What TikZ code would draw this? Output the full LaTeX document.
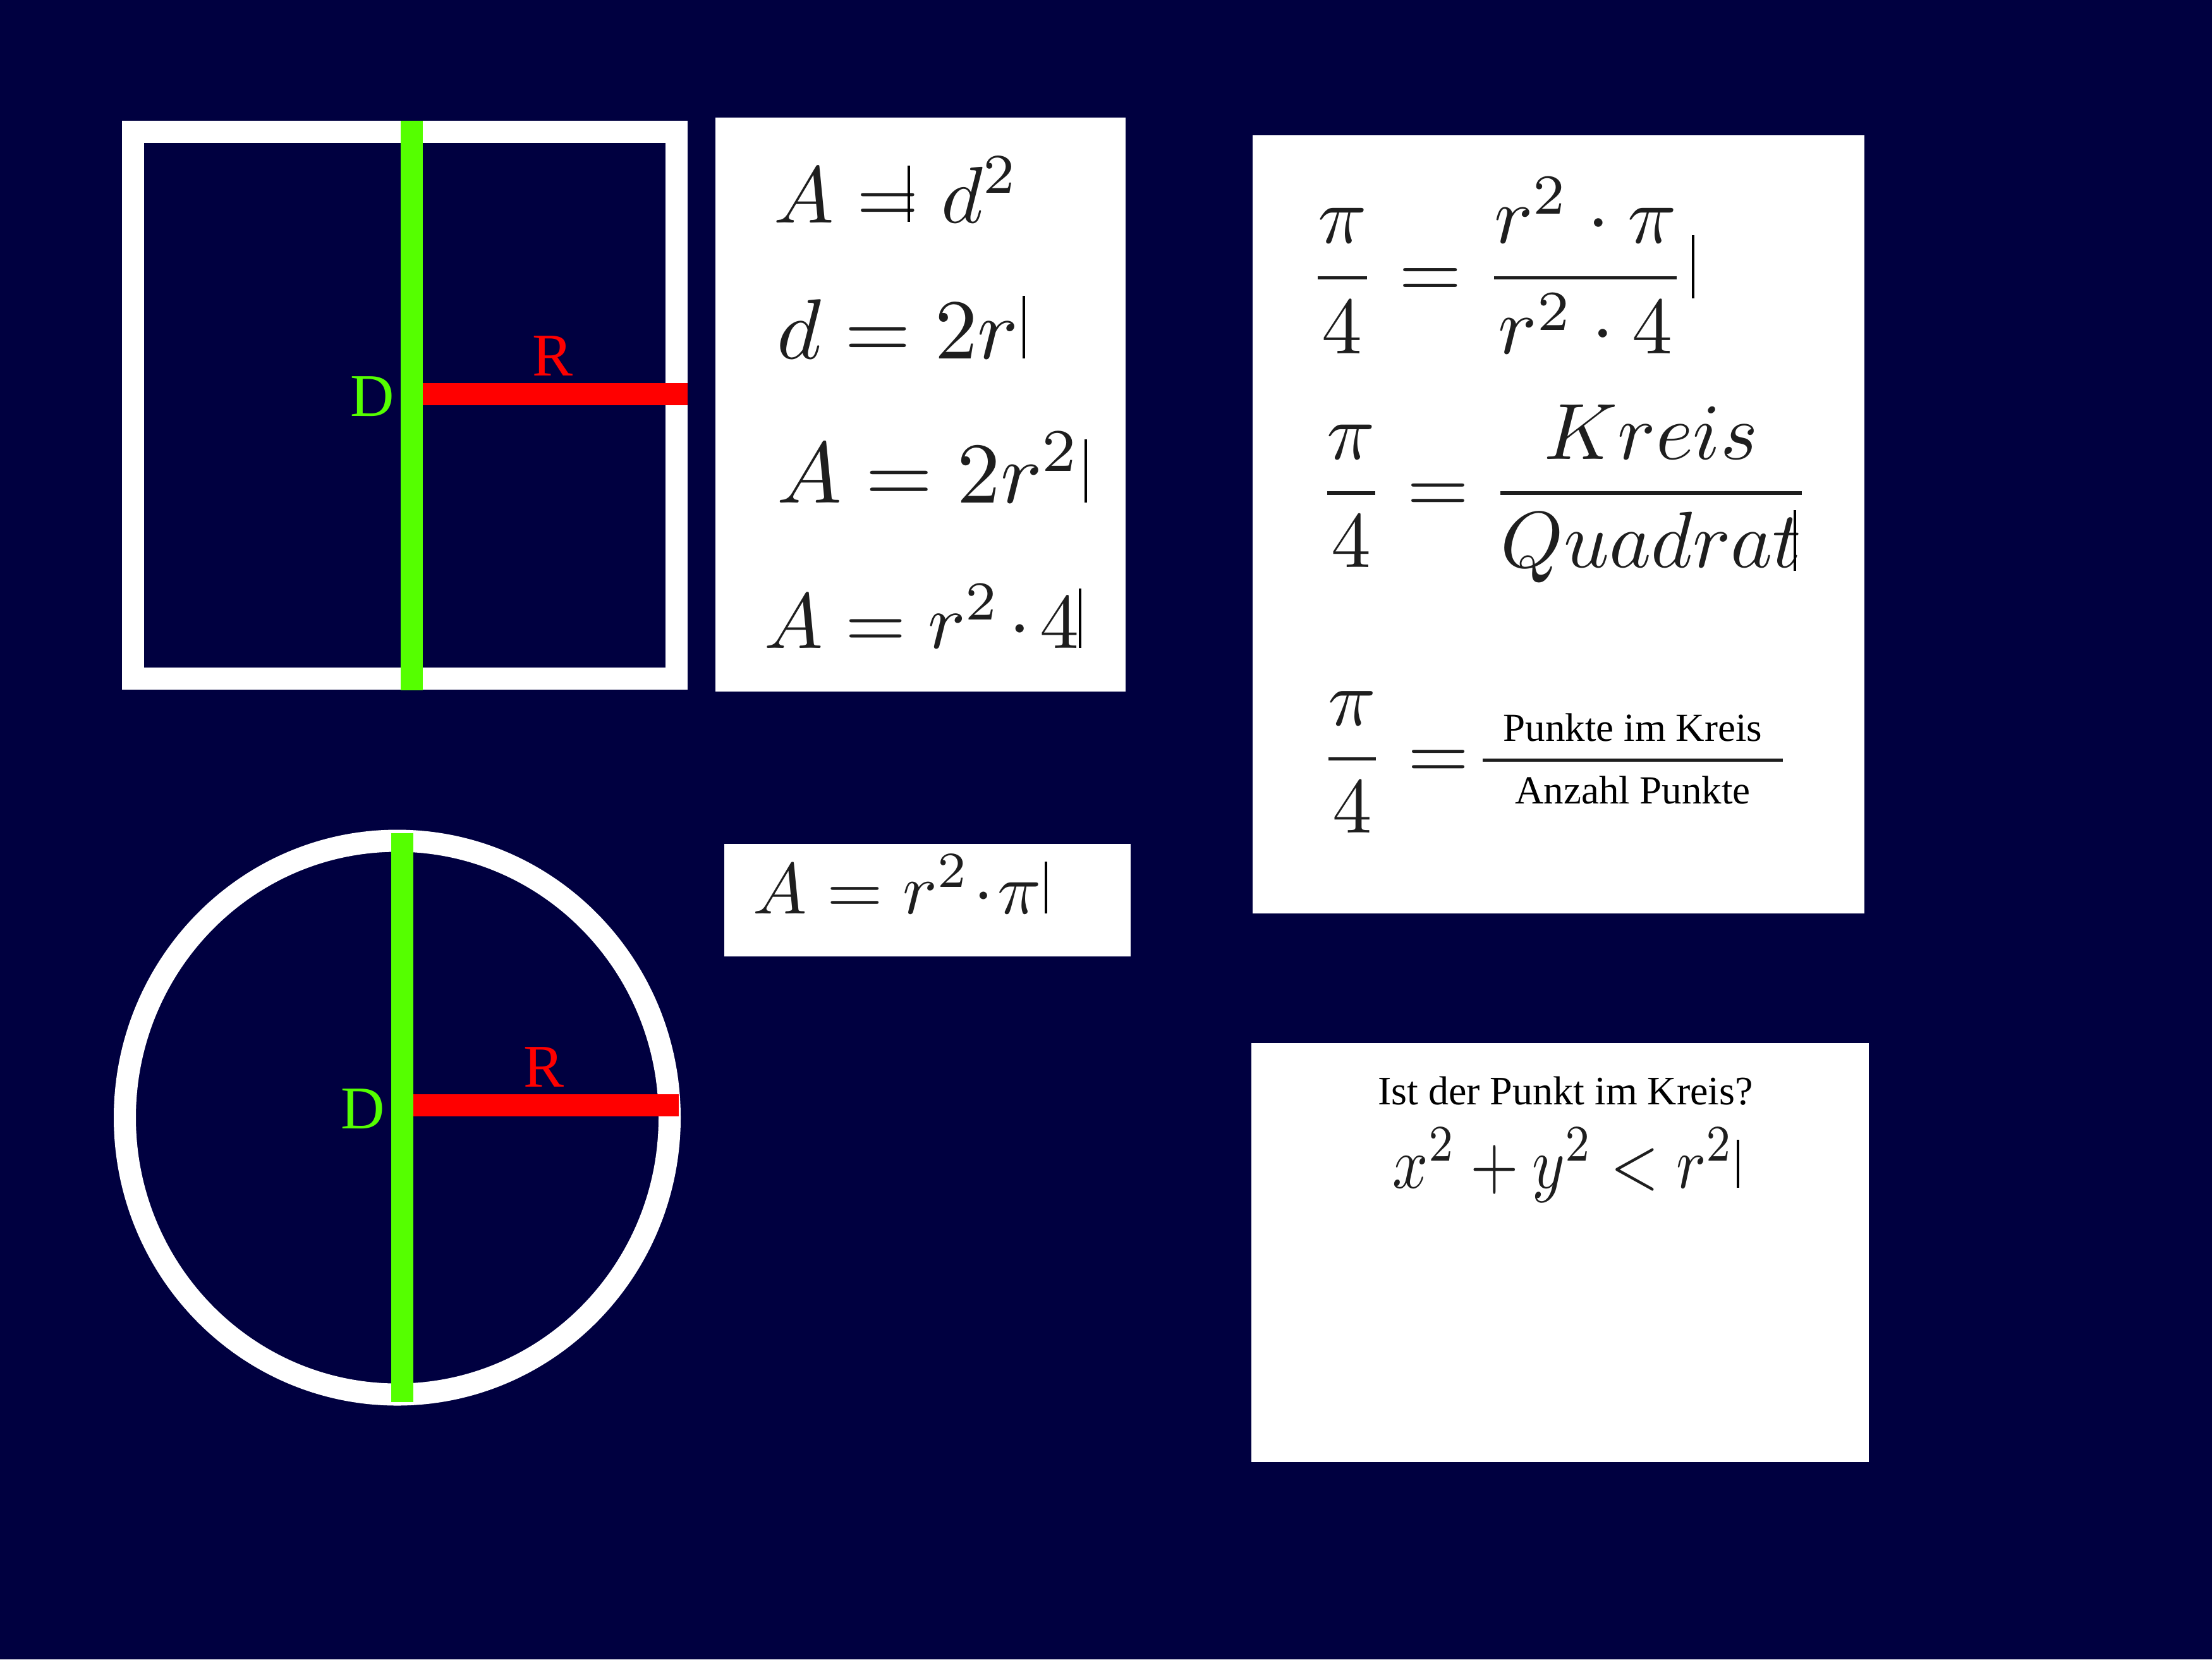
\documentclass[tikz,border=0pt]{standalone}
\usepackage{fontspec}
\usepackage{amsmath}
\newfontfamily\timesfont{Liberation Serif}

\tikzset{every picture/.style={line width=0.75pt}}
\tikzset{
  rimline/.style={color={rgb, 255:red, 255; green, 255; blue, 255 }, line width=7},
  diamline/.style={color={rgb, 255:red, 85; green, 255; blue, 0 }, line width=7},
  radline/.style={color={rgb, 255:red, 255; green, 0; blue, 0 }, line width=7},
  whitebox/.style={draw=none, fill={rgb, 255:red, 255; green, 255; blue, 255 }},
  cursorbar/.style={color={rgb, 255:red, 0; green, 0; blue, 0 }, line width=0.8},
  fracbar/.style={color={rgb, 255:red, 30; green, 30; blue, 30 }, line width=1},
  mathtxt/.style={inner sep=0, anchor=base west, text={rgb, 255:red, 30; green, 30; blue, 30 }},
  seriftxt/.style={inner sep=0, font=\timesfont, text={rgb, 255:red, 0; green, 0; blue, 0 }},
  dlabel/.style={inner sep=0, anchor=base west, font=\timesfont, scale=1.92, text={rgb, 255:red, 85; green, 255; blue, 0 }},
  rlabel/.style={inner sep=0, anchor=base west, font=\timesfont, scale=1.92, text={rgb, 255:red, 255; green, 0; blue, 0 }}
}

\begin{document}
\begin{tikzpicture}[x=0.2pt,y=0.2pt,yscale=-1,xscale=1]
%uncomment if require: \path (0,2625); %set diagram left start at 0, and has height of 2625

%Shape: Rectangle [id:bg]
\draw [draw=none, fill={rgb, 255:red, 0; green, 0; blue, 64 }] (0,0) -- (3500,0) -- (3500,2625) -- (0,2625) -- cycle ;

%Shape: Square [id:sq]
\draw [rimline] (210.5,208.5) -- (1070.5,208.5) -- (1070.5,1073.5) -- (210.5,1073.5) -- cycle ;
\coordinate (sqTop) at (651.5,191);
\coordinate (sqBot) at (651.5,1092);
\coordinate (sqMid) at (651.5,623);
\coordinate (sqEdge) at (1088,623);
%Straight Lines [id:sqR]
\draw [radline] (sqMid) -- (sqEdge) ;
%Straight Lines [id:sqD]
\draw [diamline] (sqTop) -- (sqBot) ;
% Text Node
\node [dlabel] (sqLblD) at (551,658) {D};
% Text Node
\node [rlabel] (sqLblR) at (839,594) {R};

%Shape: Circle [id:ci]
\draw [rimline] (628.5,1768) ellipse [x radius=431, y radius=438] ;
\coordinate (ciTop) at (636,1317.5);
\coordinate (ciBot) at (636,2218);
\coordinate (ciMid) at (636,1748.5);
\coordinate (ciEdge) at (1074,1748.5);
%Straight Lines [id:ciR]
\draw [radline] (ciMid) -- (ciEdge) ;
%Straight Lines [id:ciD]
\draw [diamline] (ciTop) -- (ciBot) ;
% Text Node
\node [dlabel] (ciLblD) at (536,1785) {D};
% Text Node
\node [rlabel] (ciLblR) at (825,1719) {R};

%Shape: Rectangle [id:boxSquare]
\draw [whitebox] (1132,186) -- (1781,186) -- (1781,1094) -- (1132,1094) -- cycle ;
% Text Node
\node [mathtxt, scale=2.54] (eqAd) at (1220,352) {$A = d^2$};
\draw [cursorbar] (1438,262) -- (1438,351) ;
% Text Node
\node [mathtxt, scale=2.7] (eqDr) at (1224,567) {$d = 2r$};
\draw [cursorbar] ([xshift=0.6pt]eqDr.base east) -- ++(0,-99) ;
% Text Node
\node [mathtxt, scale=2.74] (eqAtwo) at (1224,795) {$A = 2r^2$};
\draw [cursorbar] ([xshift=0.6pt]eqAtwo.base east) -- ++(0,-100) ;
% Text Node
\node [mathtxt, scale=2.48] (eqAfour) at (1205,1025) {$A = r^2\mskip-2mu\cdot\mskip-2mu 4$};
\draw [cursorbar] ([xshift=-0.6pt]eqAfour.base east) -- ++(0,-94) ;

%Shape: Rectangle [id:boxCircle]
\draw [whitebox] (1146,1335) -- (1789,1335) -- (1789,1513) -- (1146,1513) -- cycle ;
% Text Node
\node [mathtxt, scale=2.28] (eqApi) at (1187,1445) {$A = r^2\!\cdot\!\pi$};
\draw [cursorbar] ([xshift=0.6pt]eqApi.base east) -- ++(0,-82) ;

%Shape: Rectangle [id:boxRatio]
\draw [whitebox] (1982,214) -- (2950,214) -- (2950,1445) -- (1982,1445) -- cycle ;
% Text Node
\node [mathtxt, scale=2.56] (ratioOne) at (2065,471.5) {$\displaystyle\frac{\pi}{4} = \frac{r^2\cdot\pi}{r^2\cdot 4}$};
\draw [cursorbar] ([xshift=1.2pt]ratioOne.base east) -- ++(0,-100) ;
% Text Node
\node [mathtxt, scale=2.52] (ratioTwo) at (2080,811.5) {$\displaystyle\frac{\pi}{4} = \frac{Kreis}{Quadrat}$};
\draw [cursorbar] (2840,807) -- (2840,903) ;
% Text Node
\node [mathtxt, scale=2.5] (ratioThree) at (2082,1232) {$\displaystyle\frac{\pi}{4} =$};
\coordinate (barL) at (2346,1202);
\coordinate (barR) at (2821,1202);
\draw [fracbar] (barL) -- (barR) ;
% Text Node
\node [seriftxt, anchor=base, scale=1.26] (punkteIn) at (2583.5,1172.6) {Punkte im Kreis};
% Text Node
\node [seriftxt, anchor=base, scale=1.26] (punkteAll) at (2583.5,1271.5) {Anzahl Punkte};

%Shape: Rectangle [id:boxTest]
\draw [whitebox] (1980,1650) -- (2957,1650) -- (2957,2313) -- (1980,2313) -- cycle ;
% Text Node
\node [seriftxt, anchor=base, scale=1.28] (testQ) at (2477,1747) {Ist der Punkt im Kreis?};
% Text Node
\node [mathtxt, scale=2.32, xscale=0.85] (testEq) at (2200,1879) {$x^2 + y^2 < r^2$};
\draw [cursorbar] ([xshift=0.4pt]testEq.base east) -- ++(0,-76) ;

\end{tikzpicture}
\end{document}
